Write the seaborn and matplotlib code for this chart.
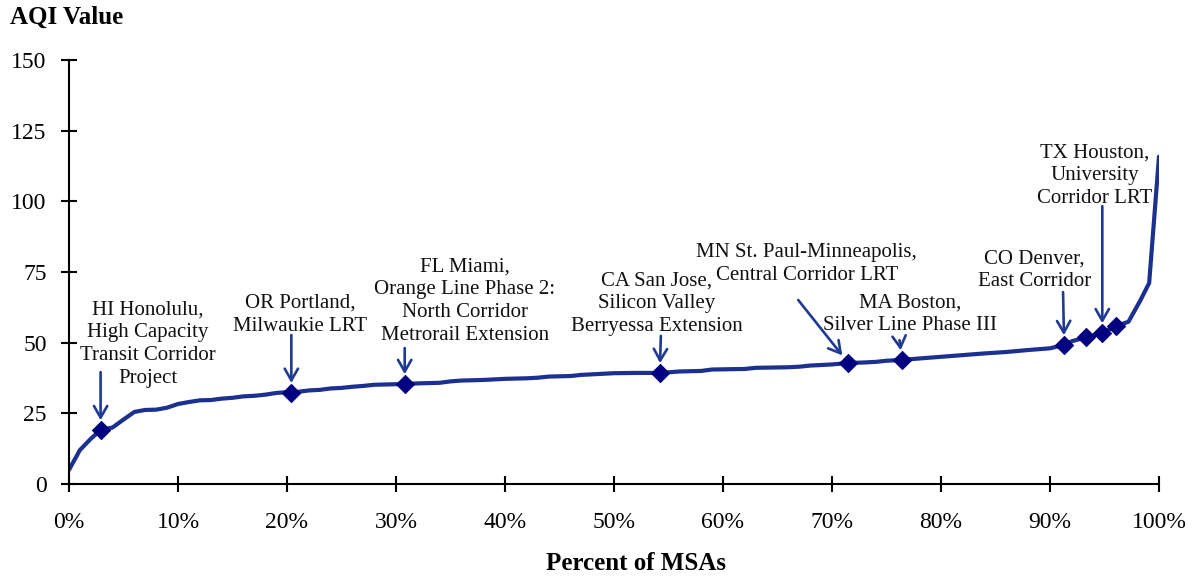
import matplotlib
matplotlib.use("Agg")
import matplotlib.pyplot as plt
import seaborn as sns
import pandas as pd
from matplotlib.ticker import FuncFormatter

# AQI curve across the share of MSAs (percent, AQI value)
pct = [0, 1, 2, 2.9, 4, 5, 6, 7, 8, 9, 10, 11, 12, 13, 14, 15, 16, 17, 18, 19, 20,
       20.4, 21, 22, 23, 24, 25, 26, 27, 28, 29, 30, 30.8, 32, 34, 35, 36, 38, 40,
       42, 43, 44, 46, 47, 48, 50, 52, 54.2, 56, 58, 59, 62, 63, 66, 67, 68, 70,
       71.5, 73, 74, 75, 76.4, 78, 80, 82, 84, 86, 88, 90, 91.3, 92, 93.3, 94.8,
       96.1, 97.2, 98.3, 99.1, 100]
aqi = [5, 12, 16, 19.1, 20, 22.8, 25.5, 26.2, 26.3, 27, 28.3, 29, 29.6, 29.7, 30.2,
       30.5, 31, 31.2, 31.6, 32.2, 32.5, 32.3, 32.6, 33.1, 33.3, 33.8, 34, 34.4,
       34.7, 35.1, 35.2, 35.3, 35.4, 35.6, 35.8, 36.3, 36.6, 36.8, 37.2, 37.4, 37.6,
       38, 38.2, 38.6, 38.8, 39.2, 39.3, 39.3, 39.8, 40, 40.5, 40.7, 41.1, 41.3,
       41.5, 41.9, 42.3, 42.8, 43, 43.2, 43.6, 43.9, 44.4, 45, 45.6, 46.2, 46.7,
       47.4, 48, 49.2, 50.5, 51.9, 53.4, 55.9, 57.4, 65, 71.1, 115.8]

# project MSAs highlighted on the curve
marker_pct = [2.9, 20.4, 30.8, 54.2, 71.5, 76.4, 91.3, 93.3, 94.8, 96.1]
marker_aqi = [19.1, 32.3, 35.4, 39.3, 42.8, 43.9, 49.2, 51.9, 53.4, 55.9]

labels = [
    "HI Honolulu,\nHigh Capacity\nTransit Corridor\nProject",
    "OR Portland,\nMilwaukie LRT",
    "FL Miami,\nOrange Line Phase 2:\nNorth Corridor\nMetrorail Extension",
    "CA San Jose,\nSilicon Valley\nBerryessa Extension",
    "MN St. Paul-Minneapolis,\nCentral Corridor LRT",
    "MA Boston,\nSilver Line Phase III",
    "CO Denver,\nEast Corridor",
    "TX Houston,\nUniversity\nCorridor LRT",
]
label_marker = [0, 1, 2, 3, 4, 5, 6, 8]

# layout of the callouts: text centre and arrow start
text_pos = [(7.25, 49.5), (21.2, 59.8), (36.3, 64.7), (53.9, 63.7),
            (67.7, 77.8), (77.2, 60.0), (88.6, 75.7), (94.1, 109.0)]
arrow_start = [(2.9, 39.6), (20.4, 52.7), (30.8, 48.1), (54.3, 52.4),
               (66.9, 65.1), (76.2, 50.9), (91.2, 67.9), (94.8, 98.3)]

line_color = "#1c318f"
marker_color = "#000080"
arrow_color = "#1f3a93"
serif = ["Liberation Serif", "DejaVu Serif"]

sns.set_theme(style="white")
plt.rcParams["font.family"] = serif

df = pd.DataFrame({"pct": pct, "aqi": aqi})
mk = pd.DataFrame({"pct": marker_pct, "aqi": marker_aqi})

fig = plt.figure(figsize=(12.04, 5.8), dpi=100)
ax = fig.add_axes([0.0573, 0.1655, 0.9053, 0.7311])

sns.lineplot(data=df, x="pct", y="aqi", ax=ax, color=line_color, linewidth=3.0)
sns.scatterplot(data=mk, x="pct", y="aqi", ax=ax, marker="D", s=85,
                color=marker_color, edgecolor=marker_color, zorder=5)

for lab, mi, (tx, ty), (sx, sy) in zip(labels, label_marker, text_pos, arrow_start):
    ax.text(tx, ty, lab, ha="center", va="center", fontsize=15,
            linespacing=1.28, color="#111111")
    ax.annotate("", xy=(marker_pct[mi], marker_aqi[mi]), xytext=(sx, sy),
                arrowprops=dict(arrowstyle="->,head_width=0.4,head_length=0.7",
                                color=arrow_color, lw=1.9, shrinkA=0, shrinkB=7))

ax.set_xlim(0, 100)
ax.set_ylim(0, 150)
ax.set_xticks(range(0, 101, 10))
ax.set_yticks(range(0, 151, 25))
ax.xaxis.set_major_formatter(FuncFormatter(lambda v, _: f"{int(v)}%"))
ax.tick_params(axis="both", direction="inout", length=12, width=1.5,
               labelsize=17, colors="black", bottom=True, left=True)
ax.tick_params(axis="y", pad=10)
ax.tick_params(axis="x", pad=14)

sns.despine(ax=ax)
for s in ("left", "bottom"):
    ax.spines[s].set_color("black")
    ax.spines[s].set_linewidth(1.5)

ax.set_xlabel("")
ax.set_ylabel("")
fig.text(0.008, 0.97, "AQI Value", fontsize=18, fontweight="bold",
         va="center", color="black")
fig.text(0.528, 0.029, "Percent of MSAs", fontsize=18, fontweight="bold",
         ha="center", va="center", color="black")

fig.savefig("out.png", dpi=100)
